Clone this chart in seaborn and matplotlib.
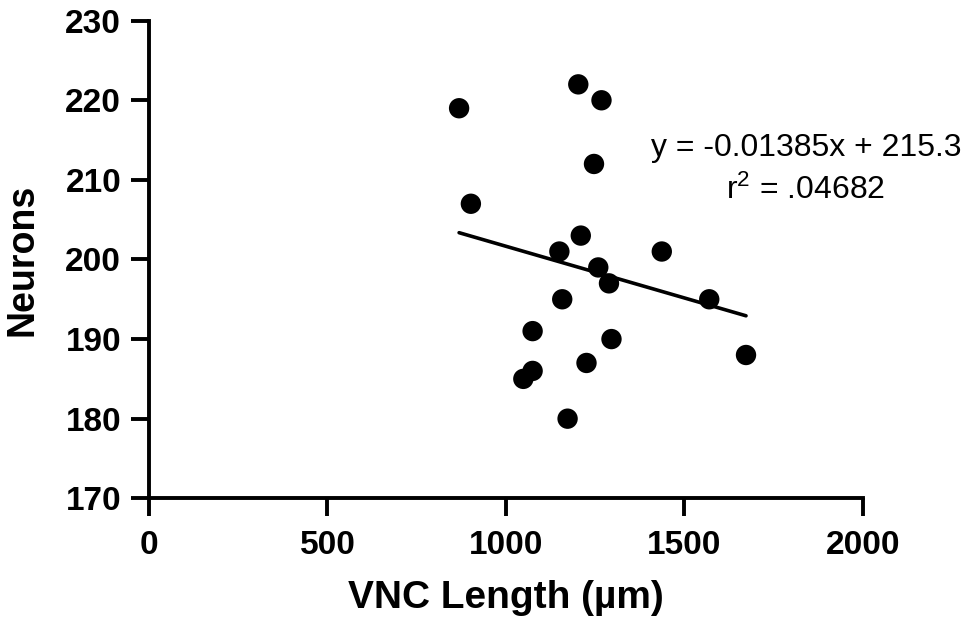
import matplotlib
matplotlib.use("Agg")
import matplotlib.pyplot as plt
import seaborn as sns
import pandas as pd

vnc_length = [869, 1203, 1268, 1247, 902, 1210, 1150, 1437, 1259, 1289,
              1570, 1158, 1075, 1296, 1673, 1226, 1075, 1049, 1173]
neurons = [219, 222, 220, 212, 207, 203, 201, 201, 199, 197,
           195, 195, 191, 190, 188, 187, 186, 185, 180]
x_ticks = [0, 500, 1000, 1500, 2000]
y_ticks = [170, 180, 190, 200, 210, 220, 230]
equation = "y = -0.01385x + 215.3"
r2_text = "r$^2$ = .04682"

sns.set_theme(style="ticks")
plt.rcParams['font.family'] = ['Liberation Sans', 'DejaVu Sans']
plt.rcParams['mathtext.fontset'] = 'custom'
plt.rcParams['mathtext.rm'] = 'Liberation Sans'
plt.rcParams['mathtext.it'] = 'Liberation Sans'

df = pd.DataFrame({"VNC Length": vnc_length, "Neurons": neurons})

fig = plt.figure(figsize=(9.79, 6.23), dpi=100)
ax = fig.add_axes([0.1522, 0.2002, 0.7290, 0.7666])

sns.regplot(data=df, x="VNC Length", y="Neurons", ax=ax, ci=None,
            scatter_kws=dict(s=215, color="black", edgecolor="none", alpha=1, zorder=3),
            line_kws=dict(color="black", lw=2.6, zorder=2))

ax.set_xlim(0, 2000)
ax.set_ylim(170, 230)
ax.set_xticks(x_ticks)
ax.set_yticks(y_ticks)
sns.despine(ax=ax)
for s in ["left", "bottom"]:
    ax.spines[s].set_linewidth(2.8)
    ax.spines[s].set_color("black")
    ax.spines[s].set_capstyle("projecting")
ax.tick_params(axis="both", width=2.8, length=13, color="black",
               labelsize=24, pad=7)
ax.tick_params(axis="x", pad=10)
for lab in ax.get_xticklabels() + ax.get_yticklabels():
    lab.set_fontweight("bold")
    lab.set_color("black")

ax.set_xlabel("VNC Length (µm)", fontsize=28, fontweight="bold", color="black")
ax.set_ylabel("Neurons", fontsize=27, fontweight="bold", color="black")
ax.xaxis.set_label_coords(0.5, -0.172)
ax.yaxis.set_label_coords(-0.152, 0.5)

ax.text(0.9206, 0.7335, equation, transform=ax.transAxes, ha="center", va="center",
        fontsize=23, color="black")
ax.text(0.9206, 0.6455, r2_text, transform=ax.transAxes, ha="center", va="center",
        fontsize=23, color="black")

fig.savefig("out.png", dpi=100)
